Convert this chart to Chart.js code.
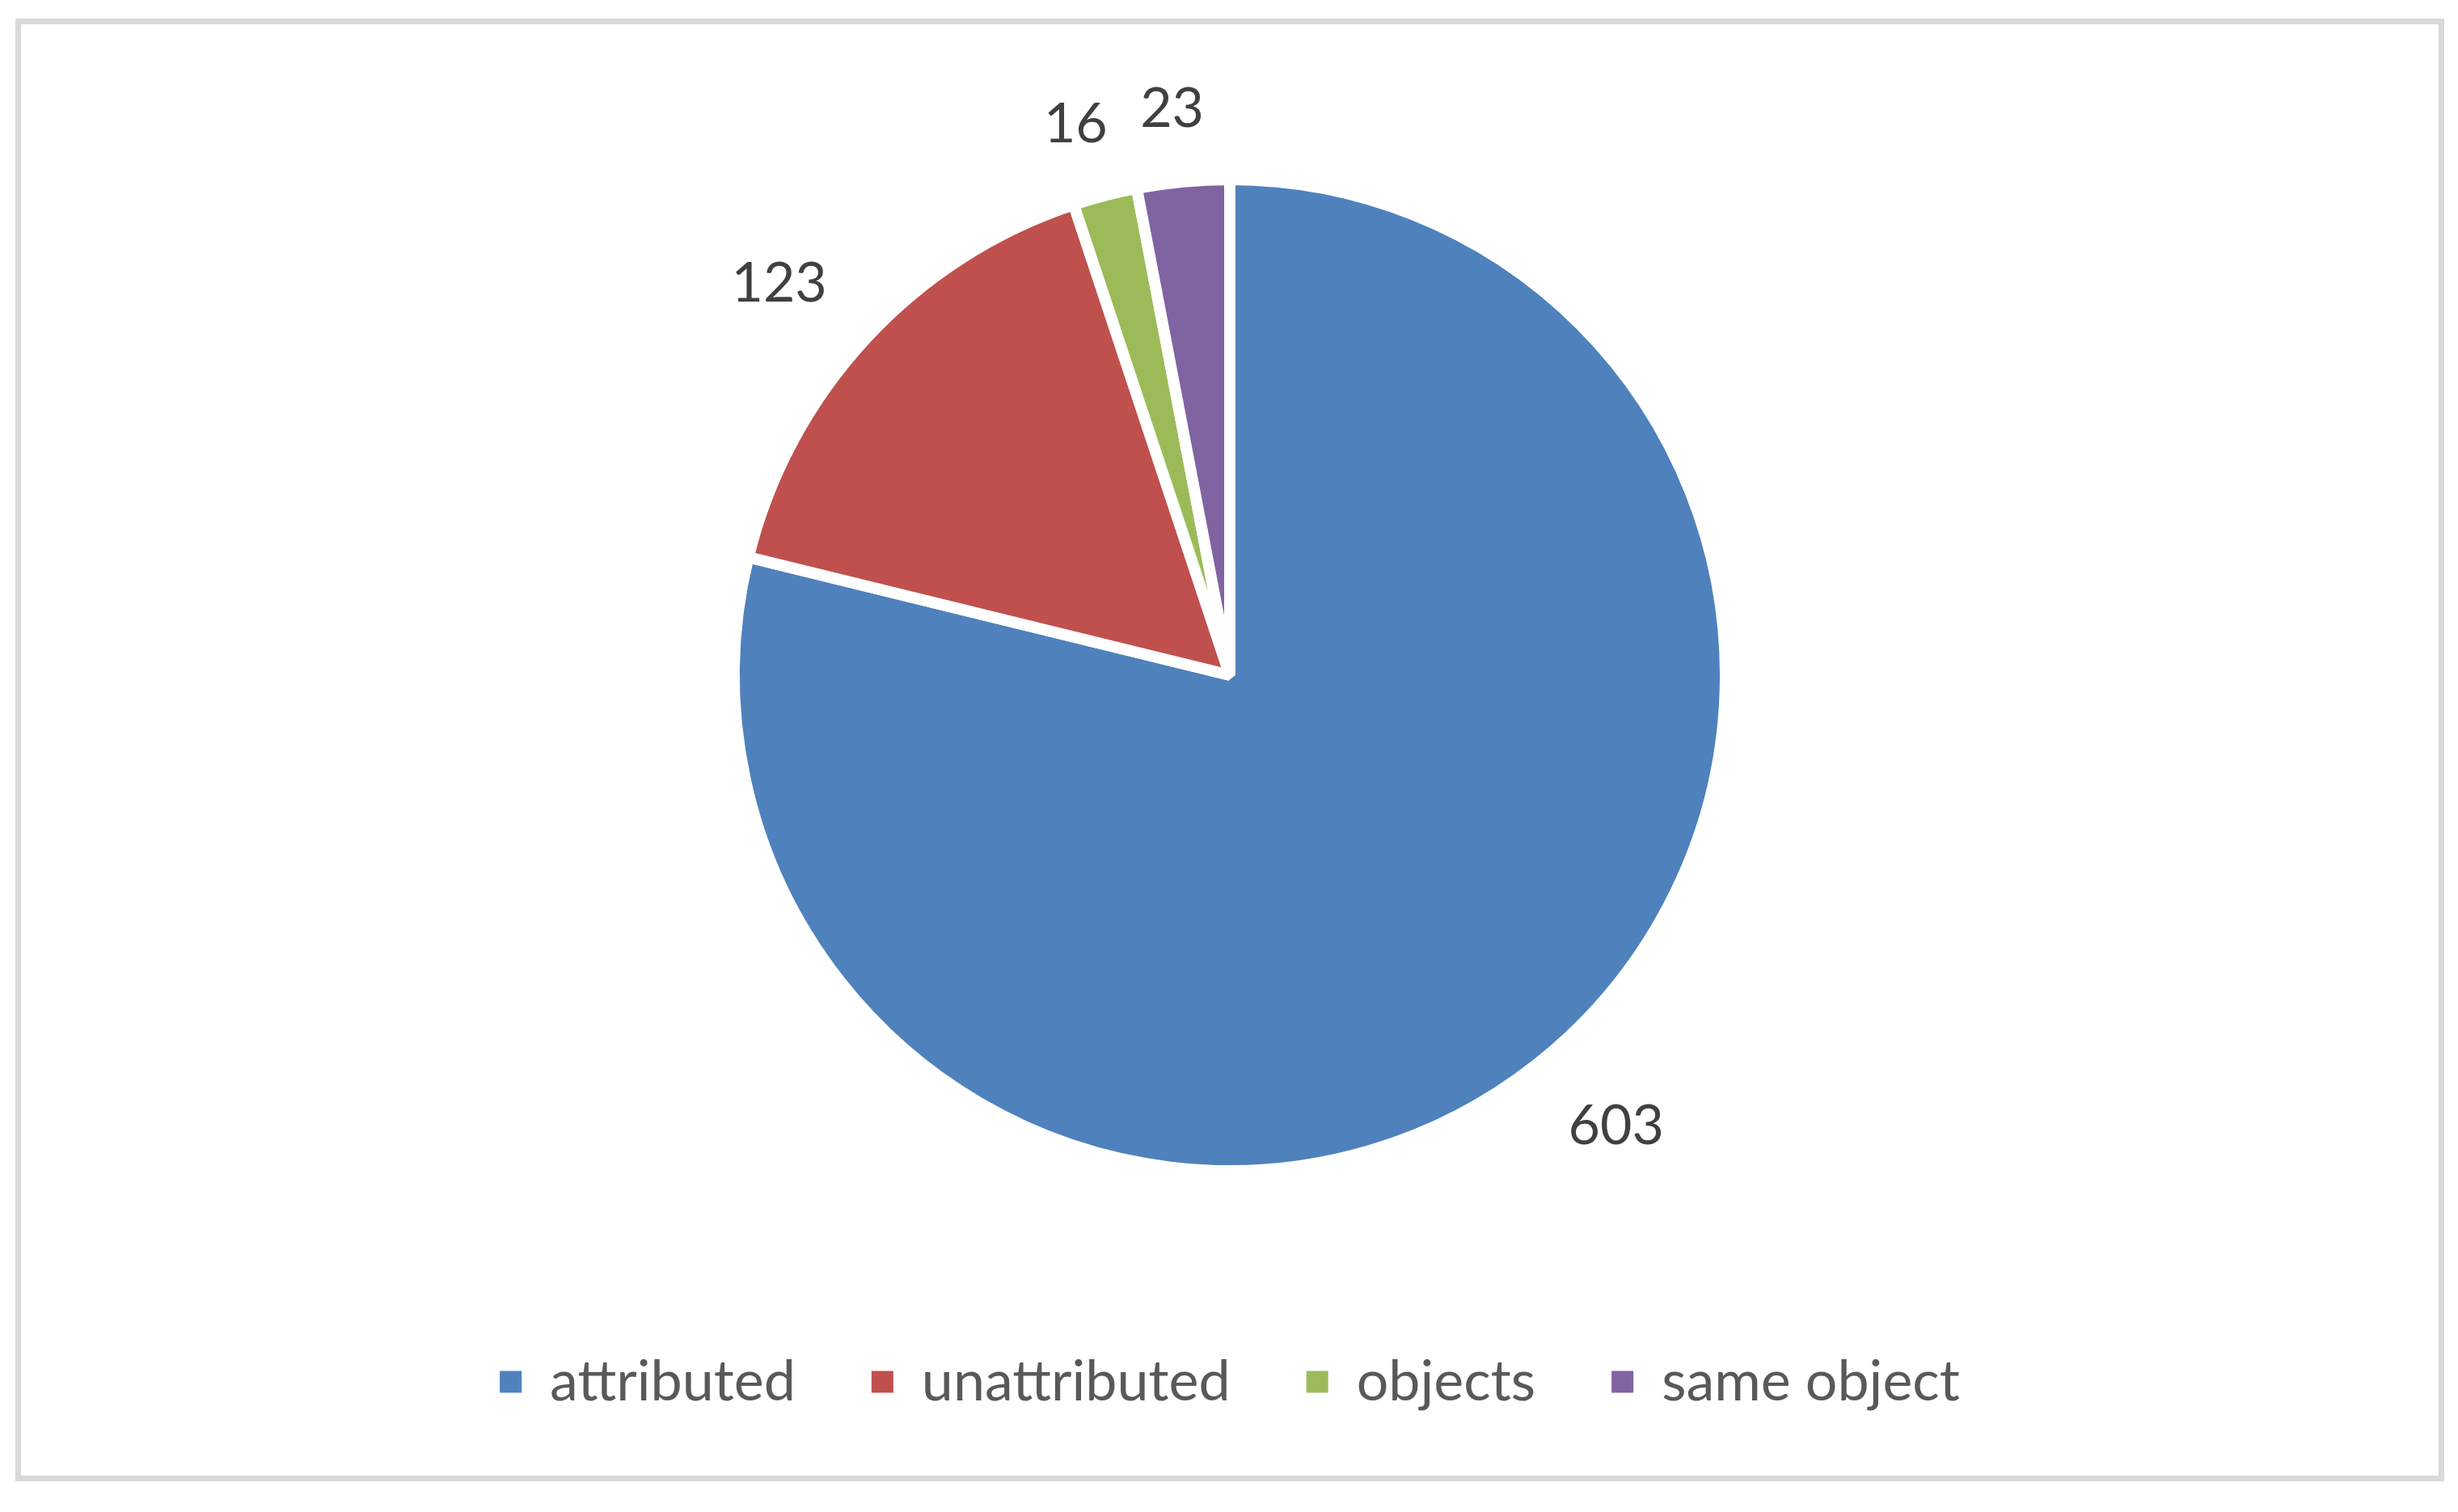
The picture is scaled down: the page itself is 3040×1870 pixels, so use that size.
<!DOCTYPE html>
<html>
<head>
<meta charset="utf-8">
<title>attributed / unattributed</title>
<script src="https://cdn.jsdelivr.net/npm/chart.js@4/dist/chart.umd.min.js"></script>
<style>
  html, body { margin: 0; padding: 0; background: #fff; }
  body { width: 3040px; height: 1870px; position: relative; overflow: hidden; }
  .frame {
    position: absolute; left: 19px; top: 23px;
    width: 3004px; height: 1809px;
    box-sizing: border-box; border: 7px solid #d9d9d9;
  }
  .chart-container { position: absolute; left: 0; top: 0; width: 2990px; height: 1795px; }
</style>
</head>
<body>
<div class="frame">
  <div class="chart-container"><canvas id="pieChart" width="2990" height="1795"></canvas></div>
</div>
<script>
// chart data
var categories = ['attributed', 'unattributed', 'objects', 'same object'];
var counts = [603, 123, 16, 23];
var sliceColors = ['#4f81bd', '#c0504d', '#9bbb59', '#8064a2'];

// draws the value next to each slice, outside the pie
var outsideLabels = {
    id: 'outsideLabels',
    afterDatasetsDraw: function(chart) {
        var ctx = chart.ctx;
        var meta = chart.getDatasetMeta(0);
        var fontSize = 68;
        ctx.save();
        ctx.font = fontSize + 'px Lato';
        ctx.fillStyle = '#404040';
        ctx.textAlign = 'center';
        ctx.textBaseline = 'middle';
        meta.data.forEach(function(arc, i) {
            var p = arc.getProps(['x', 'y', 'startAngle', 'endAngle', 'outerRadius']);
            var mid = (p.startAngle + p.endAngle) / 2;
            var text = String(chart.data.datasets[0].data[i]);
            var w = ctx.measureText(text).width;
            var h = fontSize * 0.72;
            var cx = Math.cos(mid), cy = Math.sin(mid);
            var d = p.outerRadius - 7 + 72;
            // shift the text box away from the anchor point on the radius
            var ox = Math.max(-1, Math.min(1, cx * 2)) * w / 2;
            var oy = Math.max(-1, Math.min(1, cy * 2)) * h / 2;
            ctx.fillText(text, p.x + cx * d + ox, p.y + cy * d + oy);
        });
        ctx.restore();
    }
};

var baseLabels = Chart.overrides.doughnut.plugins.legend.labels.generateLabels;

var ctx = document.getElementById('pieChart').getContext('2d');
var pieChart = new Chart(ctx, {
    type: 'pie',
    data: {
        labels: categories,
        datasets: [{
            data: counts,
            backgroundColor: sliceColors,
            borderColor: '#ffffff',
            borderWidth: 14
        }]
    },
    options: {
        responsive: false,
        animation: false,
        devicePixelRatio: 1,
        radius: 613,
        layout: { padding: { top: 60, bottom: 71, left: 0, right: 0 } },
        plugins: {
            tooltip: { enabled: false },
            legend: {
                position: 'bottom',
                labels: {
                    boxWidth: 27,
                    boxHeight: 27,
                    padding: 94,
                    color: '#595959',
                    font: { family: 'Lato', size: 70 },
                    generateLabels: function(chart) {
                        var items = baseLabels(chart);
                        items.forEach(function(item) { item.lineWidth = 0; }); // no white edge on legend boxes
                        return items;
                    }
                }
            }
        }
    },
    plugins: [outsideLabels]
});
</script>
</body>
</html>
